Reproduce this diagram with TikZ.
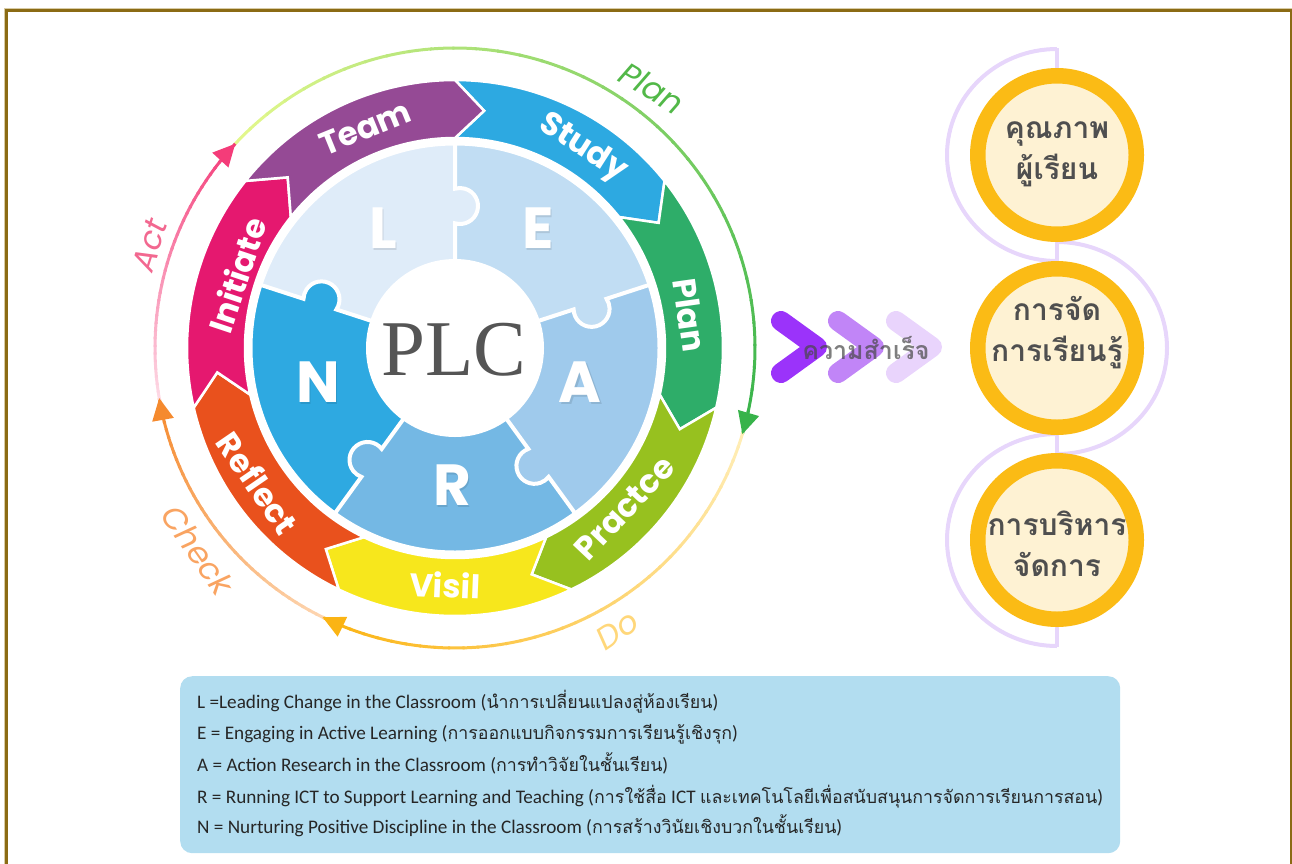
\documentclass[tikz,border=0pt]{standalone}
\usepackage{fontspec}
\usetikzlibrary{arrows.meta}
\newfontfamily\popf{Poppins}
\newfontfamily\thaif[Script=Thai]{Loma}
\newfontfamily\plcf{Liberation Serif}
\newfontfamily\legf{Carlito}
\definecolor{cTeam}{HTML}{954A95}
\definecolor{cStudy}{HTML}{2DA9E1}
\definecolor{cPlan}{HTML}{2EAD69}
\definecolor{cPrac}{HTML}{97C11F}
\definecolor{cVisil}{HTML}{F7E71C}
\definecolor{cRefl}{HTML}{E9511D}
\definecolor{cInit}{HTML}{E5186F}
\definecolor{pL}{HTML}{DFECF9}
\definecolor{pE}{HTML}{C1DDF3}
\definecolor{pA}{HTML}{9FCAEC}
\definecolor{pR}{HTML}{74B8E4}
\definecolor{pN}{HTML}{2EA9E1}
\definecolor{plcgray}{HTML}{555555}
\definecolor{planA}{HTML}{E2F78C}\definecolor{planB}{HTML}{37B34A}
\definecolor{doA}{HTML}{FFEDB5}\definecolor{doB}{HTML}{FBB414}
\definecolor{chkA}{HTML}{FDD5B0}\definecolor{chkB}{HTML}{F58A2E}
\definecolor{actA}{HTML}{FDD8E4}\definecolor{actB}{HTML}{F43C79}
\definecolor{ringy}{HTML}{FBBB15}
\definecolor{creamf}{HTML}{FEF2D3}
\definecolor{lav}{HTML}{E7D6FB}
\definecolor{chA}{HTML}{9B33FA}\definecolor{chB}{HTML}{C185F7}\definecolor{chC}{HTML}{E9D4FC}
\definecolor{legbg}{HTML}{B2DDF0}
\definecolor{framec}{HTML}{8B6B14}\definecolor{framel}{HTML}{D8CBA5}
\definecolor{thaigray}{HTML}{4F4F4F}
\definecolor{labAct}{HTML}{F26890}
\definecolor{labPlan}{HTML}{52B848}
\definecolor{labChk}{HTML}{F9A462}
\definecolor{labDo}{HTML}{FFD77A}

\newcommand\legthai[1]{{\thaif\fontsize{17.8}{18}\selectfont #1}}
\newcommand\bandseg[2]{%
  \pgfmathsetmacro\bend{#1-51.4286}%
  \pgfmathsetmacro\btip{\bend-7}%
  \pgfmathsetmacro\bnotch{#1-7}%
  \filldraw[fill=#2, draw=white, line width=2.5, line join=miter]
    (#1:268) arc[start angle=#1, end angle=\bend, radius=268]
    -- (\btip:239) -- (\bend:210)
    arc[start angle=\bend, end angle=#1, radius=210]
    -- (\bnotch:239) -- cycle;}
\newcommand\gradarc[4]{%
  \foreach \i in {0,...,35}{%
    \pgfmathsetmacro\ga{#1+(#2-#1)*\i/36}%
    \pgfmathsetmacro\gb{#1+(#2-#1)*(\i+1)/36-0.4}%
    \pgfmathtruncatemacro\gp{100*\i/35}%
    \draw[line width=3, color=#4!\gp!#3] (\ga:300) arc[start angle=\ga, end angle=\gb, radius=300];
  }}
\newcommand\arrowtip[2]{%
  \begin{scope}[shift={(#1:300)}, rotate=#1-90]
    \fill[#2] (2,0) -- (-20,11) -- (-20,-11) -- cycle;
  \end{scope}}
\newcommand\puzzletab[2]{%
  \begin{scope}[rotate=#1]
    \fill[#2] (142,-5) circle[radius=18];
  \end{scope}}
\newcommand\puzzleline[1]{%
  \begin{scope}[rotate=#1]
    \draw[white, line width=4] (86,0) -- (124.71,0)
      arc[start angle=163.87, end angle=376.13, radius=18] -- (205,0);
  \end{scope}}

\tikzset{
  bandlab/.style={text=white, font=\popf\bfseries\fontsize{32.5}{32.5}\selectfont, inner sep=0},
  lettr/.style={text=white, font=\popf\bfseries\fontsize{58}{58}\selectfont, inner sep=0},
  cyclab/.style={font=\popf\itshape\fontsize{32}{32}\selectfont, inner sep=0},
  ringc/.style={circle, draw=ringy, fill=creamf, line width=15.5, minimum size=158.5, inner sep=0},
  qtext/.style={text=thaigray, font=\thaif\bfseries\fontsize{30}{41}\selectfont, align=center, inner sep=0},
  chevline/.style={line width=20, line cap=round, line join=round},
  legline/.style={anchor=base west, inner sep=0, text=black!85, font=\legf\fontsize{19.2}{19.2}\selectfont}
}

\begin{document}
\begin{tikzpicture}[x=1pt,y=1pt]
\useasboundingbox (0,0) rectangle (1292,-863);
% frame
\draw[framel, line width=1.2] (4.4,-870) -- (4.4,-8.6) -- (1295,-8.6);
\draw[framec, line width=2.6] (6.4,-870) -- (6.4,-10.6) -- (1291,-10.6) -- (1291,-870);

\begin{scope}[shift={(455,-348)}]
  % outer PDCA cycle
  \gradarc{137.5}{-16.3}{planA}{planB}
  \gradarc{-16.3}{-115.8}{doA}{doB}
  \gradarc{244.2}{190}{chkA}{chkB}
  \gradarc{190}{137.5}{actA}{actB}
  \arrowtip{137.5}{actB}
  \arrowtip{-16.3}{planB}
  \arrowtip{-115.8}{doB}
  \arrowtip{190}{chkB}

  % band segments
  \bandseg{90}{cStudy}
  \bandseg{38.5714}{cPlan}
  \bandseg{-12.8571}{cPrac}
  \bandseg{-64.2857}{cVisil}
  \bandseg{-115.7143}{cRefl}
  \bandseg{192.8571}{cInit}
  \bandseg{141.4286}{cTeam}

  \node[bandlab, rotate=22.2] (team) at (112.2:238) {Team};
  \node[bandlab, rotate=-32.6] (study) at (57.4:237) {Study};
  \node[bandlab, rotate=-82] (planb) at (8:237) {Plan};
  \node[bandlab, rotate=46.7] (practce) at (-43.3:233) {Practce};
  \node[bandlab, rotate=-2.4] (visil) at (-92.4:237) {Visil};
  \node[bandlab, rotate=-55.6] (reflect) at (214.4:239) {Reflect};
  \node[bandlab, rotate=71.5] (initiate) at (161.5:230) {Initiate};

  % puzzle ring
  \foreach \s/\c in {162/pL, 90/pE, 18/pA, -54/pR, -126/pN}{
    \fill[\c] (\s:88) -- (\s:203) arc[start angle=\s, end angle=\s-72, radius=203]
      -- (\s-72:88) arc[start angle=\s-72, end angle=\s, radius=88] -- cycle;
  }
  \puzzletab{90}{pL}
  \puzzletab{18}{pE}
  \puzzletab{-54}{pA}
  \puzzletab{-126}{pR}
  \puzzletab{162}{pN}
  \puzzleline{90}
  \puzzleline{18}
  \puzzleline{-54}
  \puzzleline{-126}
  \puzzleline{162}
  \draw[white, line width=3] (0,0) circle[radius=204];
  \fill[white] (0,0) circle[radius=89];

  \foreach \p/\l in {{(-72,120)}/L, {(83,120)}/E, {(125,-34)}/A, {(-3,-137)}/R, {(-137,-34)}/N}{
    \node[lettr, text=black, opacity=0.10, xshift=1.5, yshift=-2.5] at \p {\l};
  }
  \node[lettr] (lL) at (-72,120) {L};
  \node[lettr] (lE) at (83,120) {E};
  \node[lettr] (lA) at (125,-34) {A};
  \node[lettr] (lR) at (-3,-137) {R};
  \node[lettr] (lN) at (-137,-34) {N};

  \node[font=\plcf\fontsize{79}{79}\selectfont, text=plcgray, inner sep=0] (plc) at (-1,-2) {PLC};
\end{scope}

% cycle labels
\node[cyclab, text=labAct, rotate=72] (act) at (150,-245) {Act};
\node[cyclab, text=labPlan, rotate=-31] (plan) at (652,-88) {Plan};
\node[cyclab, text=labChk, rotate=-55] (check) at (198,-550) {Check};
\node[cyclab, text=labDo, rotate=34] (do) at (617,-630) {Do};

% chevrons
\draw[chevline, chC] (896,-321) -- (932,-347) -- (896,-373);
\draw[chevline, chB] (838,-321) -- (874,-347) -- (838,-373);
\draw[chevline, chA] (781,-321) -- (817,-347) -- (781,-373);
\node[text=black!72, opacity=0.7, font=\thaif\bfseries\fontsize{25}{25}\selectfont, inner sep=0] (succ) at (866,-348) {ความสำเร็จ};

% right column
\draw[lav, line width=4] (1057,-48) -- (1057,-647);
\draw[lav, line width=4] (1057,-49) arc[start angle=90, end angle=270, x radius=110, y radius=106];
\draw[lav, line width=4] (1057,-242) arc[start angle=90, end angle=-90, x radius=110, y radius=106];
\draw[lav, line width=4] (1057,-434) arc[start angle=90, end angle=270, x radius=110, y radius=106];
\node[ringc] (q1) at (1057,-155) {};
\node[ringc] (q2) at (1057,-348) {};
\node[ringc] (q3) at (1057,-540) {};
\node[qtext] (t1) at (1057,-154) {คุณภาพ\\ผู้เรียน};
\node[qtext] (t2) at (1057,-333) {การจัด\\การเรียนรู้};
\node[qtext] (t3) at (1057,-544) {การบริหาร\\จัดการ};

% legend
\node[fill=legbg, rounded corners=12, minimum width=940, minimum height=177, anchor=north west, inner sep=0] (legend) at (180,-676) {};
\node[legline] (l1) at (197,-708) {L =Leading Change in the Classroom (\legthai{นำการเปลี่ยนแปลงสู่ห้องเรียน})};
\node[legline] (l2) at (197,-739) {E = Engaging in Active Learning (\legthai{การออกแบบกิจกรรมการเรียนรู้เชิงรุก})};
\node[legline] (l3) at (197,-771) {A = Action Research in the Classroom (\legthai{การทำวิจัยในชั้นเรียน})};
\node[legline] (l4) at (197,-803) {R = Running ICT to Support Learning and Teaching (\legthai{การใช้สื่อ} ICT \legthai{และเทคโนโลยีเพื่อสนับสนุนการจัดการเรียนการสอน})};
\node[legline] (l5) at (197,-833) {N = Nurturing Positive Discipline in the Classroom (\legthai{การสร้างวินัยเชิงบวกในชั้นเรียน})};
\end{tikzpicture}
\end{document}
